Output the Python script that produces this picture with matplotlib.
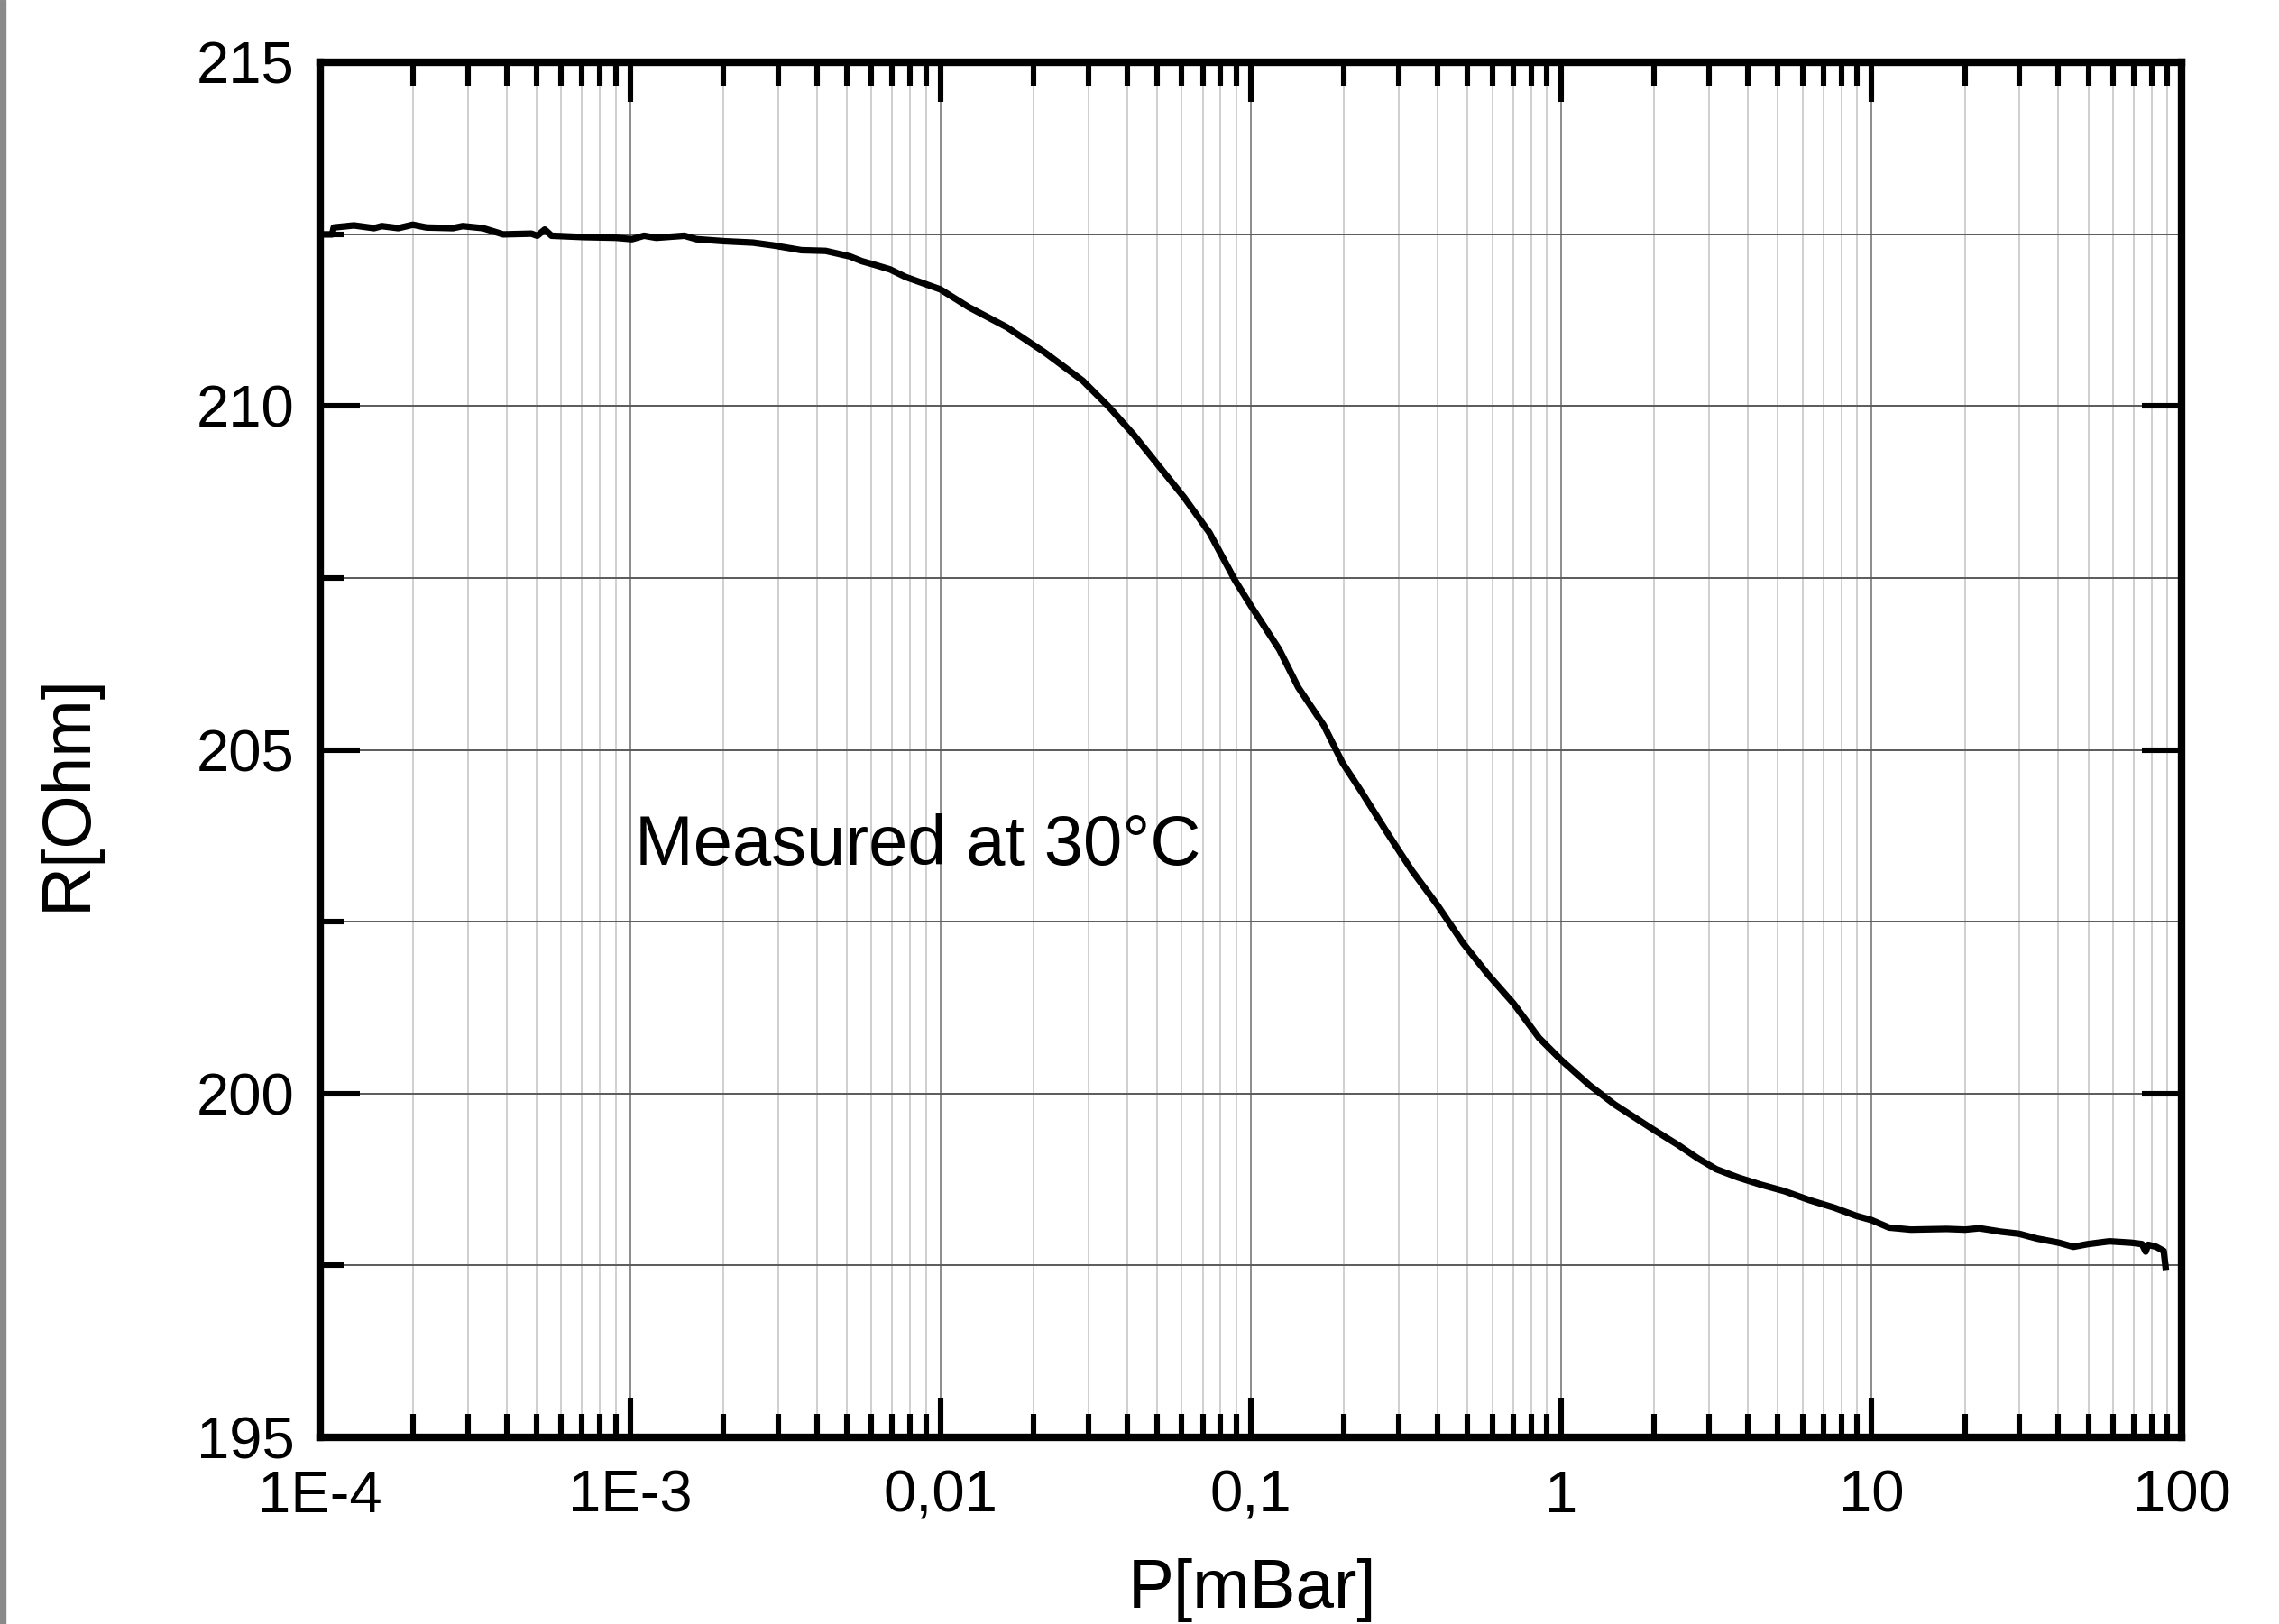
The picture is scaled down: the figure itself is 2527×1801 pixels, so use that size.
import matplotlib
matplotlib.use("Agg")
import matplotlib.pyplot as plt
import numpy as np
from matplotlib.patches import Rectangle
from matplotlib.ticker import FixedLocator, FixedFormatter, LogLocator, NullFormatter, MultipleLocator

plt.rcParams["font.family"] = ["Liberation Sans", "DejaVu Sans"]

# log10(P / mBar) and R in Ohm
log_p = [
    -4.0, -3.96, -3.955, -3.89, -3.825, -3.80, -3.747, -3.70, -3.656, -3.571,
    -3.539, -3.474, -3.409, -3.318, -3.299, -3.275, -3.253, -3.149, -3.045, -2.994,
    -2.955, -2.916, -2.825, -2.786, -2.695, -2.604, -2.539, -2.448, -2.37, -2.292,
    -2.253, -2.214, -2.162, -2.112, -2.0, -1.908, -1.786, -1.663, -1.541, -1.459,
    -1.378, -1.296, -1.214, -1.133, -1.051, -1.0, -0.908, -0.847, -0.765, -0.704,
    -0.643, -0.561, -0.480, -0.398, -0.316, -0.235, -0.153, -0.071, 0.0, 0.092,
    0.173, 0.296, 0.378, 0.44, 0.50, 0.57, 0.64, 0.72, 0.80, 0.88,
    0.952, 1.0, 1.057, 1.127, 1.243, 1.302, 1.348, 1.418, 1.476, 1.534,
    1.604, 1.651, 1.698, 1.767, 1.837, 1.872, 1.884, 1.892, 1.918, 1.942,
    1.948,
]
resistance = [
    212.50, 212.50, 212.60, 212.63, 212.59, 212.62, 212.59, 212.64, 212.60, 212.59,
    212.62, 212.59, 212.50, 212.51, 212.48, 212.57, 212.48, 212.46, 212.45, 212.43,
    212.48, 212.45, 212.48, 212.43, 212.40, 212.38, 212.34, 212.27, 212.26, 212.18,
    212.11, 212.06, 211.99, 211.88, 211.70, 211.44, 211.15, 210.78, 210.37, 210.00,
    209.59, 209.13, 208.67, 208.16, 207.47, 207.10, 206.46, 205.91, 205.36, 204.81,
    204.39, 203.80, 203.24, 202.74, 202.19, 201.73, 201.31, 200.81, 200.49, 200.12,
    199.84, 199.48, 199.25, 199.06, 198.90, 198.78, 198.68, 198.58, 198.45, 198.34,
    198.22, 198.16, 198.05, 198.02, 198.03, 198.02, 198.04, 197.99, 197.96, 197.89,
    197.83, 197.77, 197.81, 197.85, 197.83, 197.81, 197.70, 197.80, 197.77, 197.71,
    197.48,
]

x_tick_values = [1e-4, 1e-3, 1e-2, 1e-1, 1, 10, 100]
x_tick_labels = ["1E-4", "1E-3", "0,01", "0,1", "1", "10", "100"]
y_tick_values = [195, 200, 205, 210, 215]

pressure = 10 ** np.array(log_p)

fig = plt.figure(figsize=(25.27, 18.01), dpi=100)
ax = fig.add_axes([0.1403, 0.1150, 0.8170, 0.8465])

ax.plot(pressure, resistance, color="black", lw=5.2, solid_joinstyle="round", zorder=3)

ax.set_xscale("log")
ax.set_xlim(1e-4, 100)
ax.set_ylim(195, 215)

ax.xaxis.set_major_locator(FixedLocator(x_tick_values))
ax.xaxis.set_major_formatter(FixedFormatter(x_tick_labels))
ax.xaxis.set_minor_locator(LogLocator(base=10, subs=np.arange(2, 10), numticks=20))
ax.xaxis.set_minor_formatter(NullFormatter())
ax.yaxis.set_major_locator(FixedLocator(y_tick_values))
ax.yaxis.set_minor_locator(MultipleLocator(2.5))

ax.grid(which="major", axis="x", color="#8c8c8c", lw=1.4)
ax.grid(which="minor", axis="x", color="#cfcfcf", lw=1.4)
ax.grid(which="both", axis="y", color="#5a5a5a", lw=1.4)
ax.set_axisbelow(True)

for sp in ax.spines.values():
    sp.set_linewidth(6)
    sp.set_zorder(4)

ax.tick_params(which="both", direction="in", width=4.4, labelsize=47,
               top=True, right=True, bottom=True, left=True, colors="black")
ax.tick_params(which="major", length=32)
ax.tick_params(which="minor", length=19)
ax.tick_params(axis="x", which="major", pad=26)
ax.tick_params(axis="y", which="major", pad=20)
ax.tick_params(axis="y", which="minor", right=False)

ax.set_xlabel("P[mBar]", fontsize=55)
ax.set_ylabel("R[Ohm]", fontsize=55)
ax.xaxis.set_label_coords(0.501, -0.088)
ax.yaxis.set_label_coords(-0.118, 0.469)

ax.text(1.04e-3, 203.33, "Measured at 30°C", fontsize=56, ha="left", va="baseline")

# thin gray strip at the left edge of the picture
fig.patches.append(Rectangle((0, 0), 6 / 2527, 1, transform=fig.transFigure,
                             color="#8a8a8a", zorder=0))

fig.savefig("out.png", dpi=100)
